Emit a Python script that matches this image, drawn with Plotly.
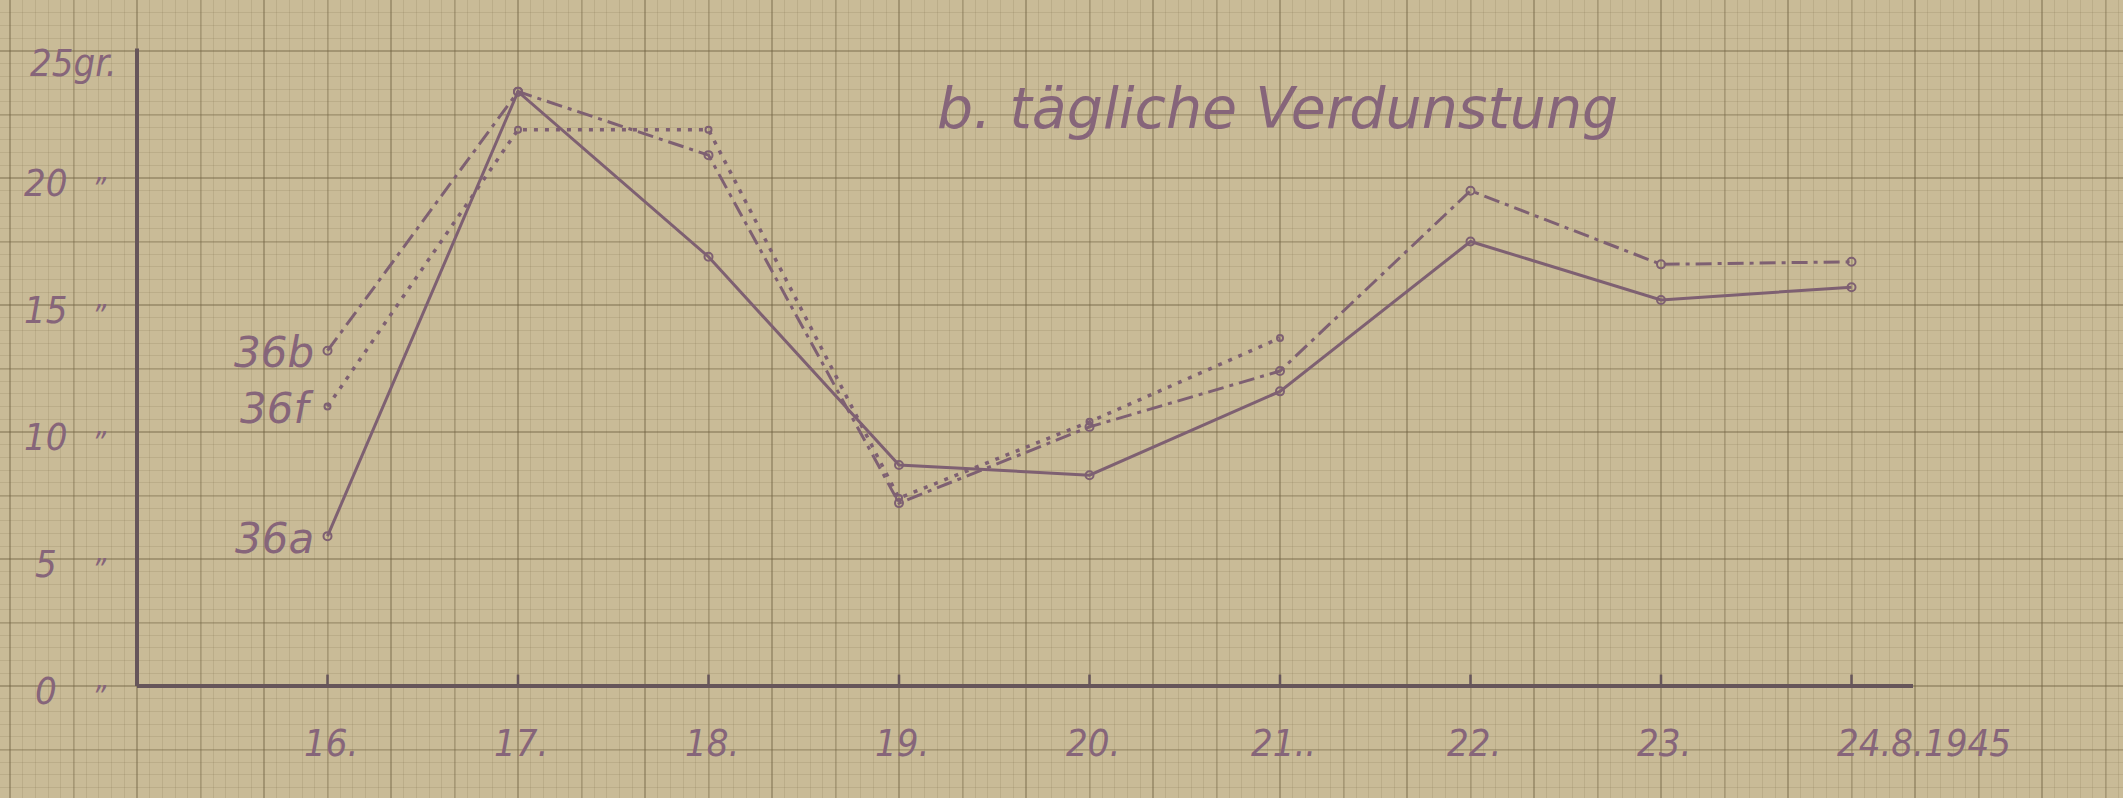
import plotly.graph_objects as go

# ---- data -------------------------------------------------------------
days = [16, 17, 18, 19, 20, 21, 22, 23, 24]
day_labels = ["16.", "17.", "18.", "19.", "20.", "21..", "22.", "23.", "24.8.1945"]

series_names = ["36a", "36b", "36f"]
evap_36a = [5.9, 23.4, 16.9, 8.7, 8.3, 11.6, 17.5, 15.2, 15.7]
evap_36b = [13.2, 23.4, 20.9, 7.2, 10.2, 12.4, 19.5, 16.6, 16.7]
evap_36f = [11.0, 21.9, 21.9, 7.4, 10.4, 13.7, None, None, None]

y_ticks = [25, 20, 15, 10, 5, 0]
y_unit = "gr."
title_text = "b. tägliche Verdunstung"

# ---- page geometry ----------------------------------------------------
W, H = 2123, 798
X_ORIGIN_PX, DAY_PX = 137, 190.5      # paper position of the y axis, width of one day
Y_ORIGIN_PX, UNIT_PX = 686, 25.4      # paper position of the x axis, height of one gram
DAY0 = 15                              # the y axis stands at day 15

x_range = [DAY0 - X_ORIGIN_PX / DAY_PX, DAY0 + (W - X_ORIGIN_PX) / DAY_PX]
y_range = [(Y_ORIGIN_PX - H) / UNIT_PX, Y_ORIGIN_PX / UNIT_PX]


def px_x(p):
    return p / W


def px_y(p):
    return 1 - p / H


# ---- colours ----------------------------------------------------------
PAPER = "#c9bb97"
INK = "#7e6072"
TEXT_INK = "#86657a"
AXIS_INK = "#66555a"
GRID_MINOR = "rgba(125,110,75,0.18)"
GRID_MID = "rgba(115,100,68,0.28)"
GRID_MAJOR = "rgba(105,90,60,0.40)"

HAND = "DejaVu Sans Condensed, DejaVu Sans, sans-serif"
HAND_WIDE = "DejaVu Sans, sans-serif"

fig = go.Figure()

# graph paper half-centimetre lines live on an overlaid axis pair
fig.add_trace(go.Scatter(x=[], y=[], xaxis="x2", yaxis="y2", showlegend=False,
                         hoverinfo="skip"))

line_styles = {
    "36a": dict(dash="solid", width=3),
    "36b": dict(dash="16px,6px,4px,6px", width=3),
    "36f": dict(dash="4px,7px", width=3.5),
}
series_values = {"36a": evap_36a, "36b": evap_36b, "36f": evap_36f}

for name in series_names:
    st = line_styles[name]
    fig.add_trace(go.Scatter(
        x=days, y=series_values[name], name=name, mode="lines+markers",
        line=dict(color=INK, width=st["width"], dash=st["dash"]),
        marker=dict(symbol="circle-open", size=8 if name != "36f" else 6,
                    color=INK, line=dict(width=2, color=INK)),
        connectgaps=False, showlegend=False, hoverinfo="skip",
    ))

# hand-drawn axes
axis_top = 25.1
axis_right = DAY0 + 1776 / DAY_PX
shapes = [
    dict(type="line", xref="x", yref="y", x0=DAY0, x1=DAY0, y0=0, y1=axis_top,
         line=dict(color=AXIS_INK, width=4)),
    dict(type="line", xref="x", yref="y", x0=DAY0, x1=axis_right, y0=0, y1=0,
         line=dict(color=AXIS_INK, width=4)),
]
for d in days:
    shapes.append(dict(type="line", xref="x", yref="y", x0=d, x1=d, y0=0, y1=0.45,
                       line=dict(color=AXIS_INK, width=2.5)))

annotations = []

# y axis labels with ditto marks
for v in y_ticks:
    if v == y_ticks[0]:
        annotations.append(dict(
            x=px_x(28), xref="paper", y=v, yref="y", yshift=-12,
            xanchor="left", yanchor="middle",
            text=f"<i>{v}{y_unit}</i>", showarrow=False,
            font=dict(family=HAND, size=38, color=TEXT_INK)))
    else:
        annotations.append(dict(
            x=px_x(46), xref="paper", y=v, yref="y", yshift=-5,
            xanchor="center", yanchor="middle",
            text=f"<i>{v}</i>", showarrow=False,
            font=dict(family=HAND, size=38, color=TEXT_INK)))
        annotations.append(dict(
            x=px_x(99), xref="paper", y=v, yref="y", yshift=-10,
            xanchor="center", yanchor="middle",
            text="<i>\u201d</i>", showarrow=False,
            font=dict(family=HAND, size=30, color=TEXT_INK)))

# day labels under the axis
for d, lab in zip(days, day_labels):
    last = d == days[-1]
    annotations.append(dict(
        x=d, xref="x", y=px_y(743), yref="paper",
        xshift=-17 if last else 3, xanchor="left" if last else "center",
        yanchor="middle",
        text=f"<i>{lab}</i>", showarrow=False,
        font=dict(family=HAND, size=38, color=TEXT_INK)))

# series names beside the first points
for name in series_names:
    annotations.append(dict(
        x=days[0], xref="x", y=series_values[name][0], yref="y",
        xshift=-12, yshift=-2, xanchor="right", yanchor="middle",
        text=f"<i>{name}</i>", showarrow=False,
        font=dict(family=HAND_WIDE, size=42, color=TEXT_INK)))

# heading
annotations.append(dict(
    x=px_x(935), xref="paper", y=px_y(108), yref="paper",
    xanchor="left", yanchor="middle",
    text=f"<i>{title_text}</i>", showarrow=False,
    font=dict(family=HAND_WIDE, size=57, color=TEXT_INK)))

axis_common = dict(showticklabels=False, ticks="", zeroline=False, showline=False,
                   fixedrange=True)

fig.update_layout(
    width=W, height=H,
    margin=dict(l=0, r=0, t=0, b=0),
    paper_bgcolor=PAPER, plot_bgcolor=PAPER,
    xaxis=dict(range=x_range, tick0=DAY0, dtick=2 / 3, showgrid=True,
               gridcolor=GRID_MAJOR, gridwidth=2,
               minor=dict(tick0=DAY0, dtick=1 / 15, showgrid=True,
                          gridcolor=GRID_MINOR, gridwidth=1),
               **axis_common),
    yaxis=dict(range=y_range, tick0=0, dtick=5, showgrid=True,
               gridcolor=GRID_MAJOR, gridwidth=2,
               minor=dict(tick0=0, dtick=0.5, showgrid=True,
                          gridcolor=GRID_MINOR, gridwidth=1),
               **axis_common),
    xaxis2=dict(range=x_range, overlaying="x", anchor="y2", tick0=DAY0 + 1 / 3,
                dtick=2 / 3, showgrid=True, gridcolor=GRID_MID, gridwidth=1.5,
                **axis_common),
    yaxis2=dict(range=y_range, overlaying="y", anchor="x2", tick0=2.5, dtick=5,
                showgrid=True, gridcolor=GRID_MID, gridwidth=1.5,
                **axis_common),
    shapes=shapes,
    annotations=annotations,
    showlegend=False,
)

fig.write_html("out.html")
